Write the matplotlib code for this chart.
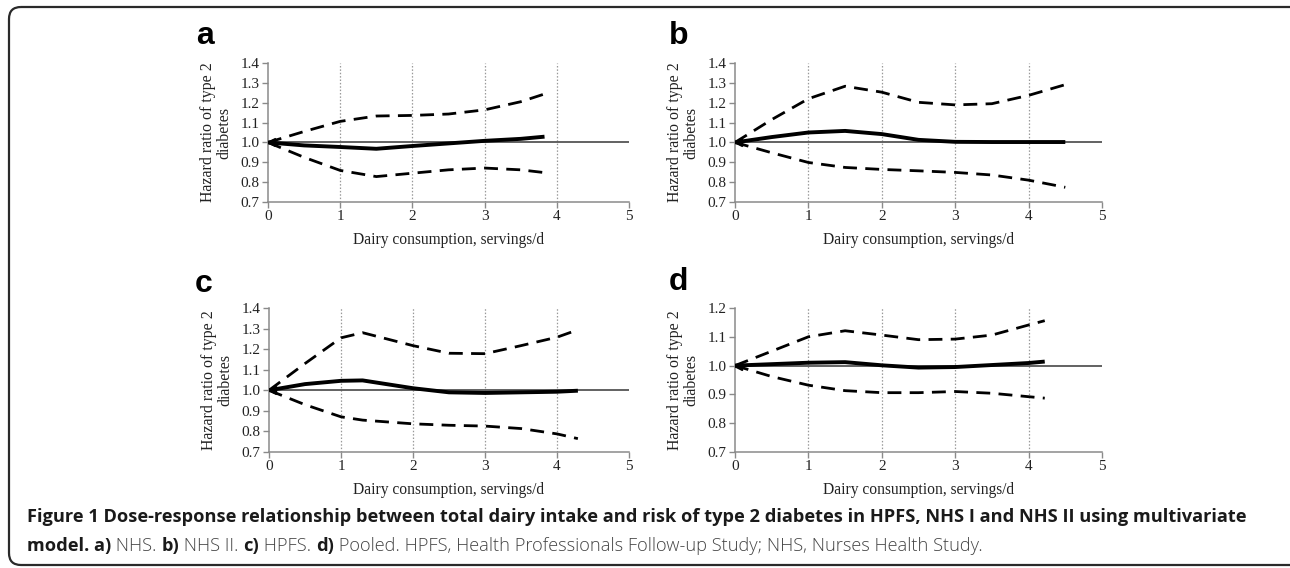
import matplotlib
matplotlib.use("Agg")
import matplotlib.pyplot as plt
from matplotlib.patches import FancyBboxPatch

W, H = 1290, 568

# dairy servings/d vs hazard ratio
x_a = [0, 0.5, 1, 1.5, 2, 2.5, 3, 3.5, 3.83]
hr_a = [1.0, 0.985, 0.977, 0.968, 0.982, 0.995, 1.008, 1.018, 1.029]
up_a = [1.0, 1.055, 1.106, 1.133, 1.136, 1.143, 1.164, 1.205, 1.244]
lo_a = [1.0, 0.925, 0.859, 0.828, 0.845, 0.862, 0.871, 0.862, 0.848]

x_b = [0, 0.5, 1, 1.5, 2, 2.5, 3, 3.5, 4, 4.5]
hr_b = [1.0, 1.027, 1.05, 1.058, 1.042, 1.013, 1.003, 1.002, 1.002, 1.002]
up_b = [1.0, 1.115, 1.22, 1.283, 1.253, 1.202, 1.189, 1.195, 1.237, 1.291]
lo_b = [1.0, 0.948, 0.899, 0.874, 0.864, 0.857, 0.849, 0.836, 0.81, 0.774]

x_c = [0, 0.5, 1, 1.3, 2, 2.5, 3, 3.5, 4, 4.29]
hr_c = [1.0, 1.03, 1.046, 1.048, 1.01, 0.99, 0.987, 0.99, 0.993, 0.998]
up_c = [1.0, 1.13, 1.255, 1.28, 1.217, 1.18, 1.178, 1.217, 1.258, 1.294]
lo_c = [1.0, 0.93, 0.871, 0.855, 0.837, 0.83, 0.826, 0.814, 0.788, 0.765]

x_d = [0, 0.5, 1, 1.5, 2, 2.5, 3, 3.5, 4, 4.22]
hr_d = [1.0, 1.005, 1.01, 1.012, 1.001, 0.993, 0.995, 1.002, 1.009, 1.014]
up_d = [1.0, 1.05, 1.10, 1.121, 1.106, 1.09, 1.092, 1.106, 1.141, 1.156]
lo_d = [1.0, 0.962, 0.932, 0.913, 0.906, 0.906, 0.91, 0.904, 0.892, 0.887]

x_ticks = [0, 1, 2, 3, 4, 5]
y_ticks_abc = [0.7, 0.8, 0.9, 1.0, 1.1, 1.2, 1.3, 1.4]
y_ticks_d = [0.7, 0.8, 0.9, 1.0, 1.1, 1.2]

panel_letters = ["a", "b", "c", "d"]
xlabel = "Dairy consumption, servings/d"
ylabel = "Hazard ratio of type 2\ndiabetes"

caption_1 = ("Figure 1 Dose-response relationship between total dairy intake and risk "
             "of type 2 diabetes in HPFS, NHS I and NHS II using multivariate")
caption_2 = [("model. a)", True), (" NHS. ", False), ("b)", True), (" NHS II. ", False),
             ("c)", True), (" HPFS. ", False), ("d)", True),
             (" Pooled. HPFS, Health Professionals Follow-up Study; NHS, Nurses Health Study.", False)]

SERIF = ["Liberation Serif", "DejaVu Serif"]
CAP = ["Open Sans", "Liberation Sans", "DejaVu Sans"]

fig = plt.figure(figsize=(W / 100, H / 100), dpi=100)

# rounded frame around the whole figure
bg = fig.add_axes([0, 0, 1, 1], zorder=-5)
bg.set_xlim(0, W)
bg.set_ylim(H, 0)
bg.axis("off")
bg.add_patch(FancyBboxPatch((9, 7), 1320, 558, boxstyle="round,pad=0,rounding_size=12",
                            fill=False, lw=1.6, ec="#2a2a2a"))


def px_box(l, r, t, b):
    return [l / W, 1 - b / H, (r - l) / W, (b - t) / H]


def panel(rect, xs, hr, up, lo, yticks, letter, letter_xy):
    ax = fig.add_axes(px_box(*rect))
    ax.set_xlim(0, 5)
    ax.set_ylim(yticks[0], yticks[-1])
    for v in x_ticks[1:-1]:
        ax.axvline(v, color="#999999", lw=0.9, ls=(0, (1.2, 1.5)), zorder=1)
    ax.axhline(1.0, color="#555555", lw=1.3, zorder=2)
    ax.plot(xs, up, color="black", lw=2.0, ls=(0, (5, 3)), zorder=3)
    ax.plot(xs, lo, color="black", lw=2.0, ls=(0, (5, 3)), zorder=3)
    ax.plot(xs, hr, color="black", lw=2.8, zorder=4, solid_capstyle="butt")
    ax.plot(xs[0] + 0.04, hr[0], marker="<", ms=6, color="black", zorder=5)
    ax.set_xticks(x_ticks)
    ax.set_yticks(yticks)
    ax.set_yticklabels([f"{v:.1f}" for v in yticks])
    for s in ("top", "right"):
        ax.spines[s].set_visible(False)
    for s in ("left", "bottom"):
        ax.spines[s].set_color("#8a8a8a")
        ax.spines[s].set_linewidth(1.1)
    ax.tick_params(direction="out", length=4, width=1.0, color="#8a8a8a",
                   labelsize=11, labelcolor="#222222", pad=2)
    for lab in ax.get_xticklabels() + ax.get_yticklabels():
        lab.set_family(SERIF)
    ax.set_xlabel(xlabel, family=SERIF, fontsize=11.2, color="#222222", labelpad=6)
    ax.set_ylabel(ylabel, family=SERIF, fontsize=11.4, color="#222222", labelpad=6,
                  linespacing=1.0)
    fig.text(letter_xy[0] / W, 1 - letter_xy[1] / H, letter, fontsize=23,
             fontweight="bold", family=["Liberation Sans", "DejaVu Sans"],
             ha="left", va="center")
    return ax


panel((268, 629, 63, 202), x_a, hr_a, up_a, lo_a, y_ticks_abc, panel_letters[0], (196, 36))
panel((735, 1102, 63, 202), x_b, hr_b, up_b, lo_b, y_ticks_abc, panel_letters[1], (669, 36))
panel((269, 629, 308, 452), x_c, hr_c, up_c, lo_c, y_ticks_abc, panel_letters[2], (195, 284))
panel((735, 1102, 308, 452), x_d, hr_d, up_d, lo_d, y_ticks_d, panel_letters[3], (669, 282))

# caption, sized so the first line spans the same width as in the figure
renderer = fig.canvas.get_renderer()
cap = fig.text(27 / W, 1 - 517 / H, caption_1, family=CAP, fontweight="bold", fontsize=13.6,
               color="#1a1a1a", ha="left", va="center")
fs = 13.6 * 1221 / cap.get_window_extent(renderer).width
cap.set_fontsize(fs)
xpos = 27
for txt, bold in caption_2:
    t = fig.text(xpos / W, 1 - 546 / H, txt, family=CAP,
                 fontweight="bold" if bold else "light", fontsize=fs,
                 color="#1a1a1a" if bold else "#444444", ha="left", va="center")
    xpos += t.get_window_extent(renderer).width

fig.savefig("out.png", dpi=100)
